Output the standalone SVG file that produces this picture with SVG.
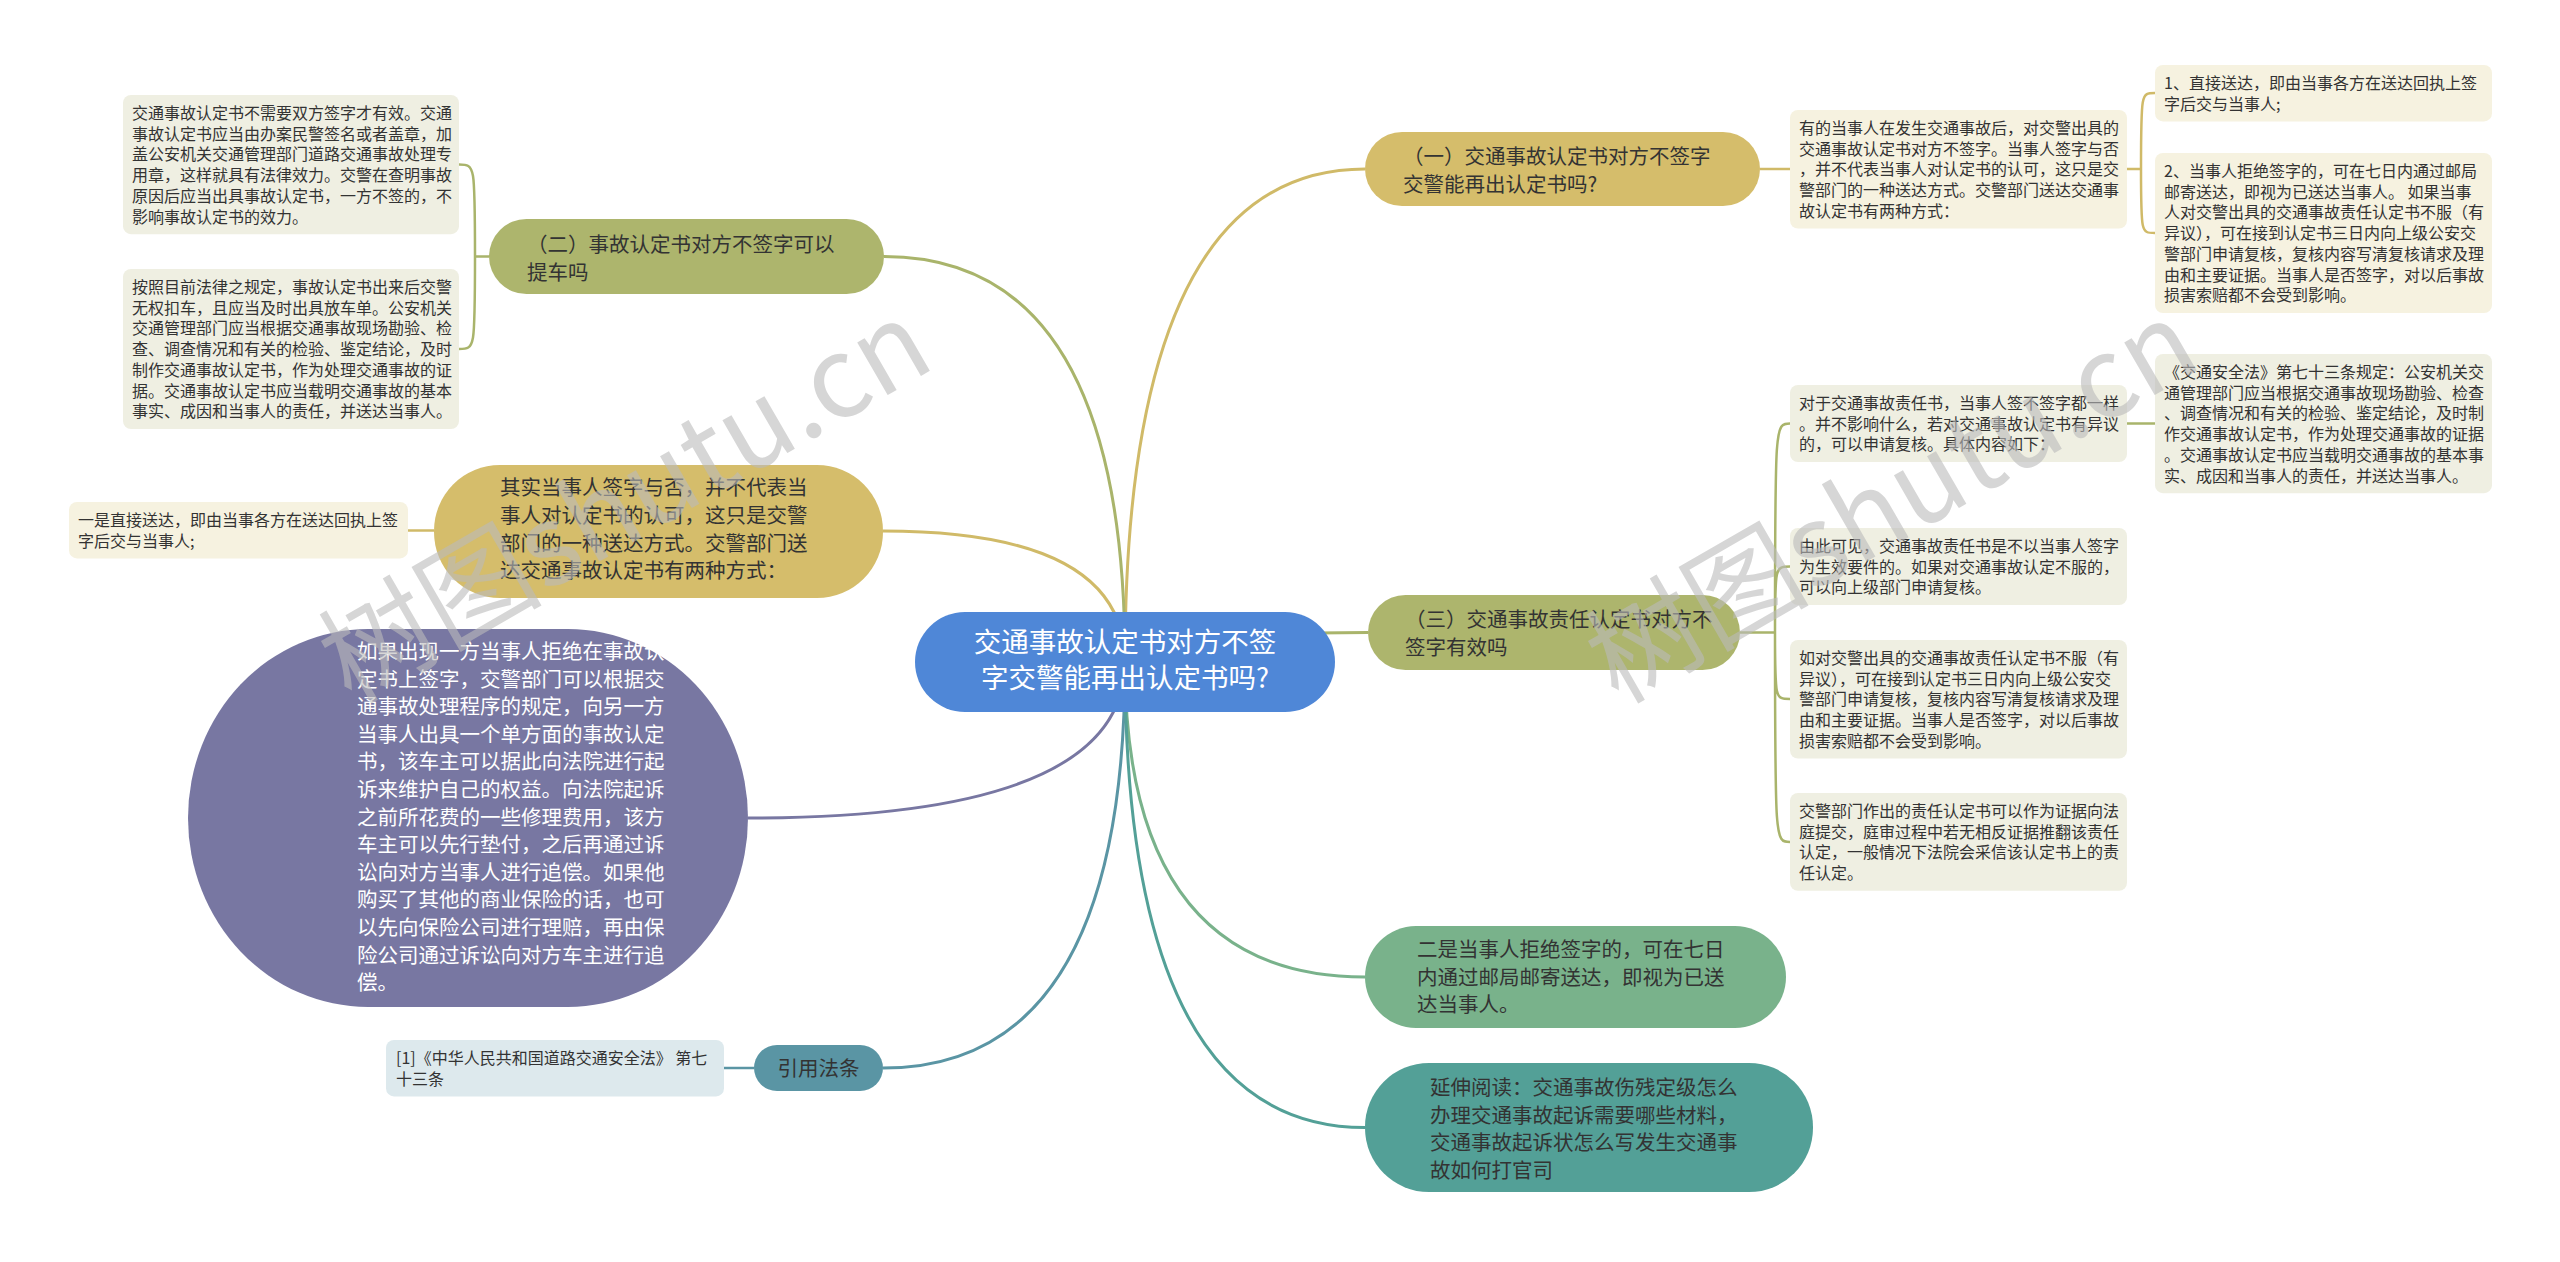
<svg xmlns="http://www.w3.org/2000/svg" width="2560" height="1262" viewBox="0 0 2560 1262">
<style>
text{font-family:"Noto Sans CJK SC","Noto Sans",sans-serif;fill:#333}
.lf{font-size:16px}
.nd{font-size:20.5px}
.ct{font-size:27.5px;fill:#fff}
.wt{fill:#fff}
.lb{fill:#f6f2e0}
.lg{fill:#efefe2}
.lt{fill:#dde9ed}
.gold{fill:#d5bd6b}
.olive{fill:#adb56d}
.c{fill:none;stroke-width:3}
.b{fill:none;stroke-width:2.5}
.sg{stroke:#d0ba68}
.so{stroke:#a9b46b}
.wm{font-size:112px;fill:#bbbbbb;opacity:0.6}
</style>
<rect width="2560" height="1262" fill="#fff"/>
<g id="connectors">
<path class="c sg" d="M1125,662 Q1125,169 1365,169"/>
<path class="c so" d="M1125,662 Q1125,256.5 884,256.5"/>
<path class="c sg" d="M1125,662 Q1125,531 883,531"/>
<path class="c so" d="M1125,662 Q1125,632.5 1368,632.5"/>
<path class="c" stroke="#7877a2" d="M1125,662 Q1125,818 748,818"/>
<path class="c" stroke="#5a95a4" d="M1125,662 Q1125,1068 883,1068"/>
<path class="c" stroke="#79b28b" d="M1125,662 Q1125,977 1365,977"/>
<path class="c" stroke="#53a097" d="M1125,662 Q1125,1127.5 1365,1127.5"/>
<path class="b sg" d="M1760,169 L1790,169"/>
<path class="b sg" d="M2127,169 L2141,169 M2141,169 C2141,93 2141,93 2155,93 M2141,169 C2141,233 2141,233 2155,233"/>
<path class="b so" d="M489,256.5 L475,256.5 M475,256.5 C475,164.6 475,164.6 459,164.6 M475,256.5 C475,349 475,349 459,349"/>
<path class="b sg" d="M434,530.5 L408,530.5"/>
<path class="b" stroke="#5a95a4" d="M754,1068 L724,1068"/>
<path class="b so" d="M1740,632.5 L1775,632.5 M1775,632.5 C1775,423.5 1775,423.5 1790,423.5 M1775,632.5 C1775,566.5 1775,566.5 1790,566.5 M1775,632.5 C1775,699 1775,699 1790,699 M1775,632.5 C1775,842 1775,842 1790,842"/>
<path class="b so" d="M2127,423.5 L2155,423.5"/>
</g>
<g id="center">
<rect x="915" y="612" width="420" height="100" rx="50" fill="#4f87d7"/>
<text class="ct" text-anchor="middle"><tspan x="1125" y="652">交通事故认定书对方不签</tspan><tspan x="1125" y="688">字交警能再出认定书吗?</tspan></text>
</g>
<g id="n1">
<rect class="gold" x="1365" y="132" width="395" height="74" rx="37"/>
<text class="nd"><tspan x="1403" y="164">（一）交通事故认定书对方不签字</tspan><tspan x="1403" y="191.5">交警能再出认定书吗?</tspan></text>
</g>
<g id="r1">
<rect class="lb" x="1790" y="110" width="337" height="118.5" rx="8"/>
<text class="lf"><tspan x="1799" y="134">有的当事人在发生交通事故后，对交警出具的</tspan><tspan x="1799" dy="20.7">交通事故认定书对方不签字。当事人签字与否</tspan><tspan x="1799" dy="20.7">，并不代表当事人对认定书的认可，这只是交</tspan><tspan x="1799" dy="20.7">警部门的一种送达方式。交警部门送达交通事</tspan><tspan x="1799" dy="20.7">故认定书有两种方式：</tspan></text>
</g>
<g id="r1a">
<rect class="lb" x="2155" y="65" width="337" height="56.4" rx="8"/>
<text class="lf"><tspan x="2164" y="89">1、直接送达，即由当事各方在送达回执上签</tspan><tspan x="2164" dy="20.7">字后交与当事人;</tspan></text>
</g>
<g id="r1b">
<rect class="lb" x="2155" y="153" width="337" height="160" rx="8"/>
<text class="lf"><tspan x="2164" y="177">2、当事人拒绝签字的，可在七日内通过邮局</tspan><tspan x="2164" dy="20.7">邮寄送达，即视为已送达当事人。 如果当事</tspan><tspan x="2164" dy="20.7">人对交警出具的交通事故责任认定书不服（有</tspan><tspan x="2164" dy="20.7">异议），可在接到认定书三日内向上级公安交</tspan><tspan x="2164" dy="20.7">警部门申请复核，复核内容写清复核请求及理</tspan><tspan x="2164" dy="20.7">由和主要证据。当事人是否签字，对以后事故</tspan><tspan x="2164" dy="20.7">损害索赔都不会受到影响。</tspan></text>
</g>
<g id="n2">
<rect class="olive" x="489" y="219" width="395" height="75" rx="37.5"/>
<text class="nd"><tspan x="527" y="252">（二）事故认定书对方不签字可以</tspan><tspan x="527" y="279.5">提车吗</tspan></text>
</g>
<g id="l1">
<rect class="lg" x="123" y="95" width="336" height="139.2" rx="8"/>
<text class="lf"><tspan x="132" y="119">交通事故认定书不需要双方签字才有效。交通</tspan><tspan x="132" dy="20.7">事故认定书应当由办案民警签名或者盖章，加</tspan><tspan x="132" dy="20.7">盖公安机关交通管理部门道路交通事故处理专</tspan><tspan x="132" dy="20.7">用章，这样就具有法律效力。交警在查明事故</tspan><tspan x="132" dy="20.7">原因后应当出具事故认定书，一方不签的，不</tspan><tspan x="132" dy="20.7">影响事故认定书的效力。</tspan></text>
</g>
<g id="l2">
<rect class="lg" x="123" y="269" width="336" height="160" rx="8"/>
<text class="lf"><tspan x="132" y="293">按照目前法律之规定，事故认定书出来后交警</tspan><tspan x="132" dy="20.7">无权扣车，且应当及时出具放车单。公安机关</tspan><tspan x="132" dy="20.7">交通管理部门应当根据交通事故现场勘验、检</tspan><tspan x="132" dy="20.7">查、调查情况和有关的检验、鉴定结论，及时</tspan><tspan x="132" dy="20.7">制作交通事故认定书，作为处理交通事故的证</tspan><tspan x="132" dy="20.7">据。交通事故认定书应当载明交通事故的基本</tspan><tspan x="132" dy="20.7">事实、成因和当事人的责任，并送达当事人。</tspan></text>
</g>
<g id="q">
<rect class="gold" x="434" y="465" width="449" height="133" rx="66"/>
<text class="nd"><tspan x="500" y="495">其实当事人签字与否，并不代表当</tspan><tspan x="500" dy="27.8">事人对认定书的认可，这只是交警</tspan><tspan x="500" dy="27.8">部门的一种送达方式。交警部门送</tspan><tspan x="500" dy="27.8">达交通事故认定书有两种方式：</tspan></text>
</g>
<g id="y1">
<rect class="lb" x="69" y="502" width="339" height="56.4" rx="8"/>
<text class="lf"><tspan x="78" y="526">一是直接送达，即由当事各方在送达回执上签</tspan><tspan x="78" dy="20.7">字后交与当事人;</tspan></text>
</g>
<g id="p">
<rect x="188" y="629" width="560" height="378" rx="180" ry="189" fill="#7877a2"/>
<text class="nd wt"><tspan x="357" y="659">如果出现一方当事人拒绝在事故认</tspan><tspan x="357" dy="27.6">定书上签字，交警部门可以根据交</tspan><tspan x="357" dy="27.6">通事故处理程序的规定，向另一方</tspan><tspan x="357" dy="27.6">当事人出具一个单方面的事故认定</tspan><tspan x="357" dy="27.6">书，该车主可以据此向法院进行起</tspan><tspan x="357" dy="27.6">诉来维护自己的权益。向法院起诉</tspan><tspan x="357" dy="27.6">之前所花费的一些修理费用，该方</tspan><tspan x="357" dy="27.6">车主可以先行垫付，之后再通过诉</tspan><tspan x="357" dy="27.6">讼向对方当事人进行追偿。如果他</tspan><tspan x="357" dy="27.6">购买了其他的商业保险的话，也可</tspan><tspan x="357" dy="27.6">以先向保险公司进行理赔，再由保</tspan><tspan x="357" dy="27.6">险公司通过诉讼向对方车主进行追</tspan><tspan x="357" dy="27.6">偿。</tspan></text>
</g>
<g id="y">
<rect x="754" y="1045" width="129" height="46" rx="23" fill="#5a95a4"/>
<text class="nd" x="818.5" y="1076" text-anchor="middle">引用法条</text>
</g>
<g id="c1">
<rect class="lt" x="386" y="1040" width="338" height="56.4" rx="8"/>
<text class="lf"><tspan x="396" y="1064">[1]《中华人民共和国道路交通安全法》 第七</tspan><tspan x="396" dy="20.7">十三条</tspan></text>
</g>
<g id="n3">
<rect class="olive" x="1368" y="595" width="372" height="75" rx="37.5"/>
<text class="nd"><tspan x="1405" y="627">（三）交通事故责任认定书对方不</tspan><tspan x="1405" y="654.5">签字有效吗</tspan></text>
</g>
<g id="r3a">
<rect class="lg" x="1790" y="385" width="337" height="77.1" rx="8"/>
<text class="lf"><tspan x="1799" y="409">对于交通事故责任书，当事人签不签字都一样</tspan><tspan x="1799" dy="20.7">。并不影响什么，若对交通事故认定书有异议</tspan><tspan x="1799" dy="20.7">的，可以申请复核。具体内容如下：</tspan></text>
</g>
<g id="r3a1">
<rect class="lg" x="2155" y="354" width="337" height="139.2" rx="8"/>
<text class="lf"><tspan x="2164" y="378">《交通安全法》第七十三条规定：公安机关交</tspan><tspan x="2164" dy="20.7">通管理部门应当根据交通事故现场勘验、检查</tspan><tspan x="2164" dy="20.7">、调查情况和有关的检验、鉴定结论，及时制</tspan><tspan x="2164" dy="20.7">作交通事故认定书，作为处理交通事故的证据</tspan><tspan x="2164" dy="20.7">。交通事故认定书应当载明交通事故的基本事</tspan><tspan x="2164" dy="20.7">实、成因和当事人的责任，并送达当事人。</tspan></text>
</g>
<g id="r3b">
<rect class="lg" x="1790" y="528" width="337" height="77.1" rx="8"/>
<text class="lf"><tspan x="1799" y="552">由此可见，交通事故责任书是不以当事人签字</tspan><tspan x="1799" dy="20.7">为生效要件的。如果对交通事故认定不服的，</tspan><tspan x="1799" dy="20.7">可以向上级部门申请复核。</tspan></text>
</g>
<g id="r3c">
<rect class="lg" x="1790" y="640" width="337" height="118.5" rx="8"/>
<text class="lf"><tspan x="1799" y="664">如对交警出具的交通事故责任认定书不服（有</tspan><tspan x="1799" dy="20.7">异议），可在接到认定书三日内向上级公安交</tspan><tspan x="1799" dy="20.7">警部门申请复核，复核内容写清复核请求及理</tspan><tspan x="1799" dy="20.7">由和主要证据。当事人是否签字，对以后事故</tspan><tspan x="1799" dy="20.7">损害索赔都不会受到影响。</tspan></text>
</g>
<g id="r3d">
<rect class="lg" x="1790" y="793" width="337" height="97.8" rx="8"/>
<text class="lf"><tspan x="1799" y="817">交警部门作出的责任认定书可以作为证据向法</tspan><tspan x="1799" dy="20.7">庭提交，庭审过程中若无相反证据推翻该责任</tspan><tspan x="1799" dy="20.7">认定，一般情况下法院会采信该认定书上的责</tspan><tspan x="1799" dy="20.7">任认定。</tspan></text>
</g>
<g id="e">
<rect x="1365" y="926" width="421" height="102" rx="51" fill="#79b28b"/>
<text class="nd"><tspan x="1417" y="957">二是当事人拒绝签字的，可在七日</tspan><tspan x="1417" dy="27.5">内通过邮局邮寄送达，即视为已送</tspan><tspan x="1417" dy="27.5">达当事人。</tspan></text>
</g>
<g id="f">
<rect x="1365" y="1063" width="448" height="129" rx="64" fill="#53a097"/>
<text class="nd"><tspan x="1430" y="1095">延伸阅读：交通事故伤残定级怎么</tspan><tspan x="1430" dy="27.5">办理交通事故起诉需要哪些材料，</tspan><tspan x="1430" dy="27.5">交通事故起诉状怎么写发生交通事</tspan><tspan x="1430" dy="27.5">故如何打官司</tspan></text>
</g>
<g id="watermark">
<text class="wm" transform="translate(351,705) rotate(-30)">树图shutu.cn</text>
<text class="wm" transform="translate(1618,705) rotate(-30)">树图shutu.cn</text>
</g>
</svg>
